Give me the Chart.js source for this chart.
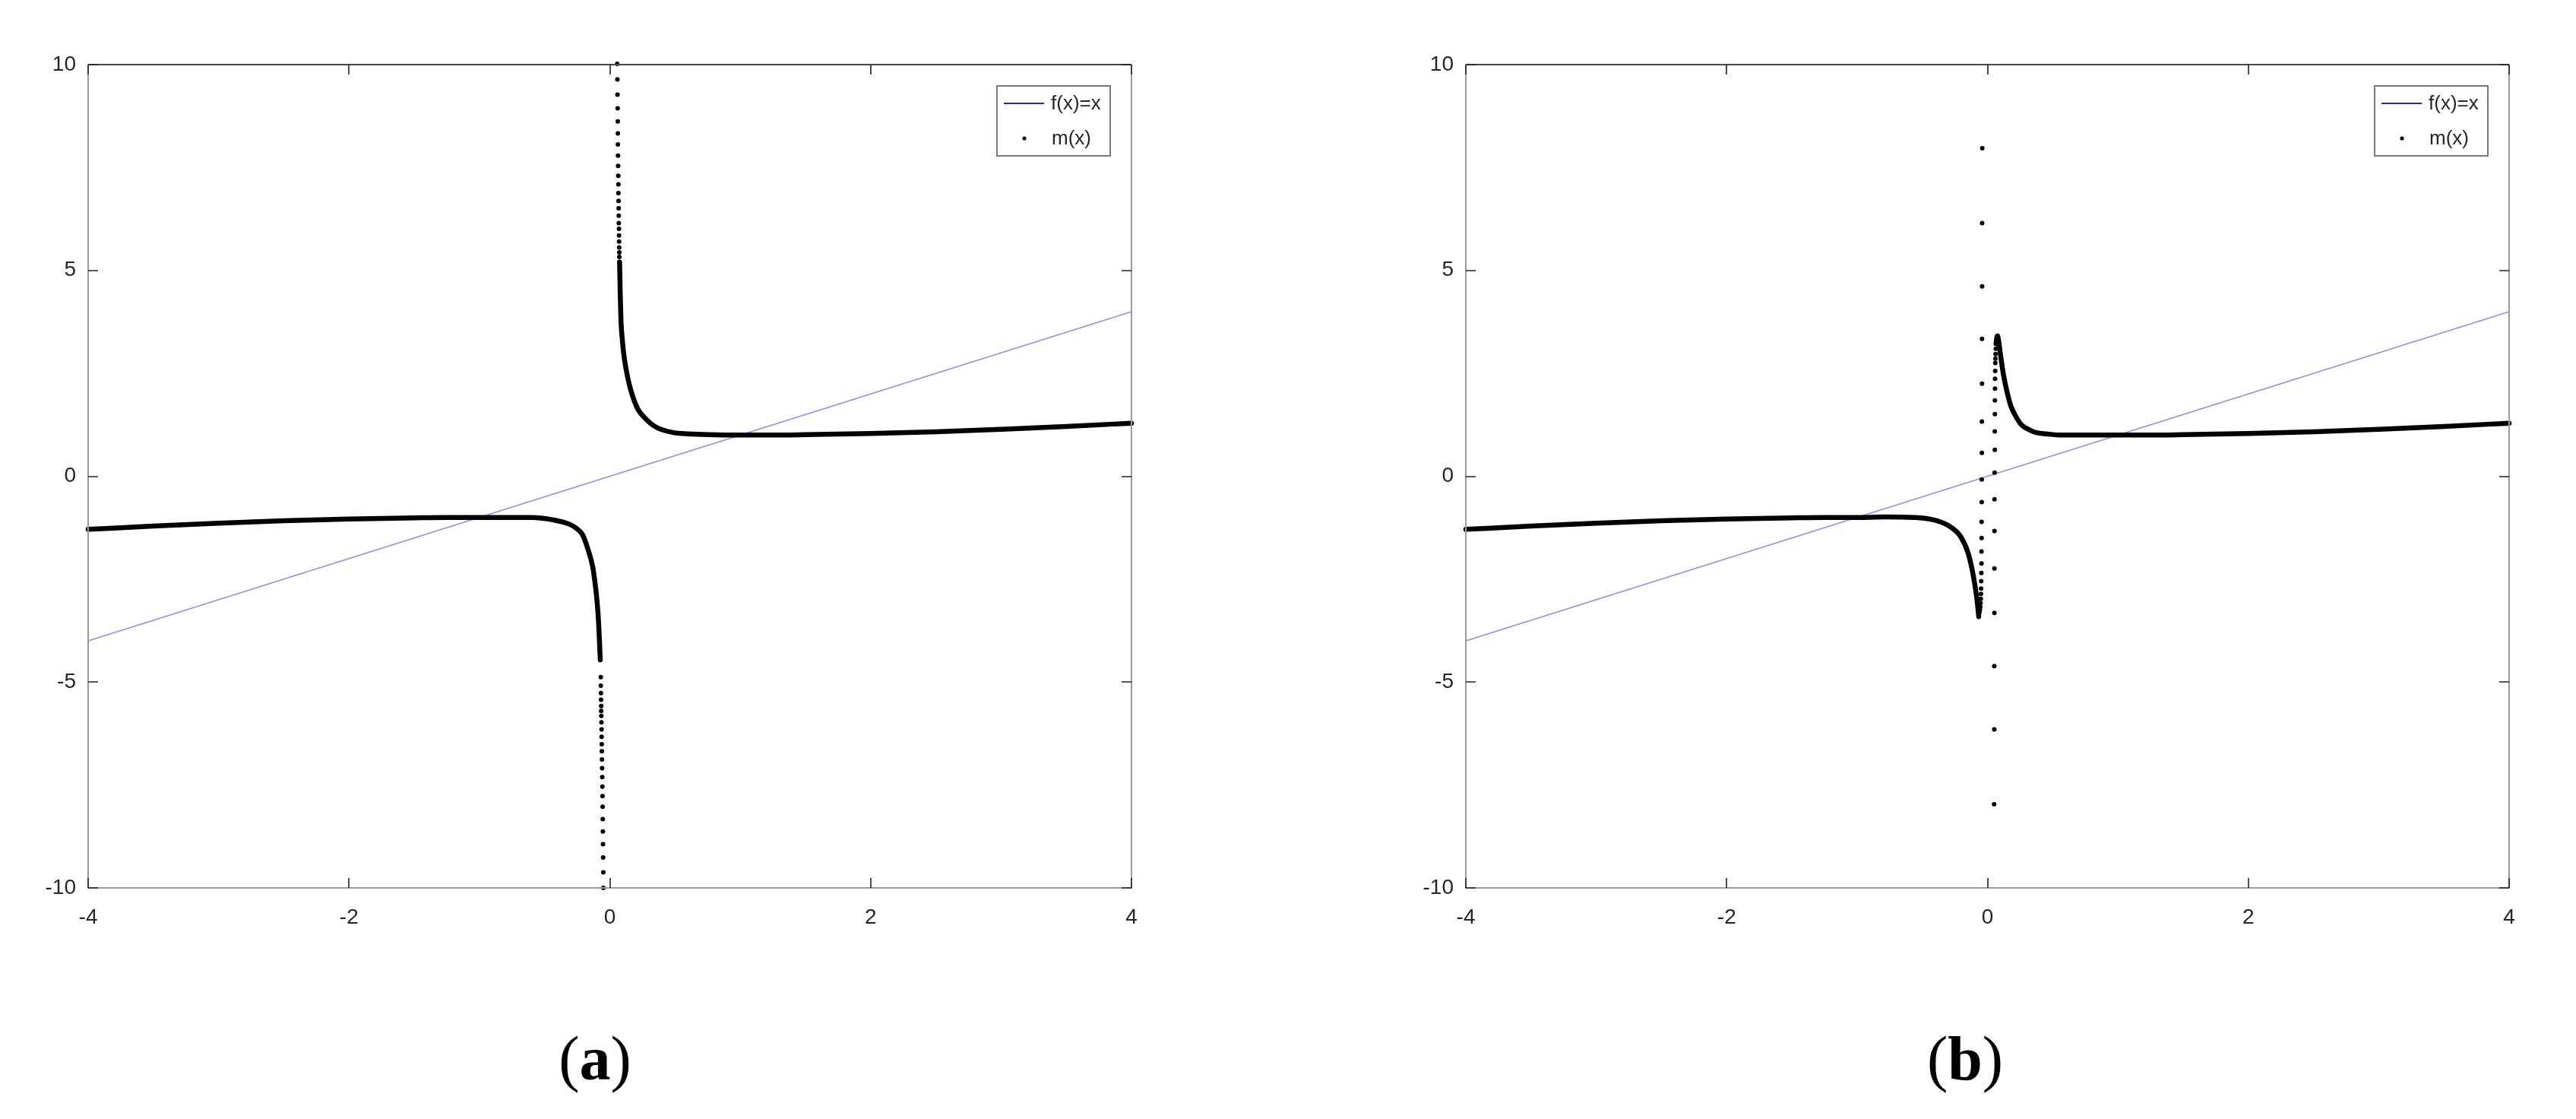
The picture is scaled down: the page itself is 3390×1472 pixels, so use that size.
<!DOCTYPE html>
<html><head><meta charset="utf-8">
<script src="https://cdn.jsdelivr.net/npm/chart.js@4.4.1/dist/chart.umd.min.js"></script>
<style>
html,body{margin:0;padding:0;background:#fff;}
body{width:3390px;height:1472px;position:relative;overflow:hidden;}
.panel{position:absolute;top:0;width:1600px;height:1300px;}
.cap{position:absolute;font-family:"Liberation Serif","DejaVu Serif",serif;font-size:82px;color:#000;transform:translateX(-50%);line-height:1;white-space:nowrap;}
.cap b{font-weight:bold;}
</style></head><body>
<div class="panel" style="left:0"><canvas id="ca" width="1600" height="1300"></canvas></div>
<div class="panel" style="left:1813px"><canvas id="cb" width="1600" height="1300"></canvas></div>
<div class="cap" style="left:783px;top:1352px">(<b>a</b>)</div>
<div class="cap" style="left:2586px;top:1352px">(<b>b</b>)</div>
<script>
// ---- tick values ----
const xTickValues = [-4, -2, 0, 2, 4];
const yTickValues = [-10, -5, 0, 5, 10];

// ---- f(x)=x ----
const identityX = [-4, 4];
const identityY = [-4, 4];

// ---- panel (a): m(x), dense parts ----
const aLeftX = [-4.0, -3.5, -3.0, -2.5, -2.0, -1.5, -1.25, -1.0, -0.76, -0.597, -0.45, -0.306, -0.25, -0.209, -0.17, -0.131, -0.115, -0.102, -0.09, -0.083, -0.078, -0.073];
const aLeftY = [-1.29, -1.21, -1.14, -1.08, -1.04, -1.01, -1.0, -1.0, -1.0, -1.0, -1.05, -1.17, -1.28, -1.42, -1.75, -2.2, -2.55, -2.90, -3.35, -3.75, -4.1, -4.46];
const aRightX = [0.075, 0.077, 0.080, 0.086, 0.095, 0.106, 0.125, 0.150, 0.180, 0.219, 0.280, 0.335, 0.40, 0.49, 0.60, 0.76, 1.0, 1.25, 1.5, 2.0, 2.5, 3.0, 3.5, 4.0];
const aRightY = [5.2, 4.9, 4.4, 3.76, 3.35, 2.99, 2.6, 2.22, 1.9, 1.61, 1.38, 1.23, 1.13, 1.06, 1.03, 1.01, 1.0, 1.0, 1.01, 1.04, 1.08, 1.14, 1.21, 1.29];
// ---- panel (a): m(x), separate dots near the pole ----
const aDotsUpX = [0.057, 0.058, 0.059, 0.060, 0.061, 0.062, 0.062, 0.063, 0.064, 0.065, 0.066, 0.066, 0.067, 0.068, 0.069, 0.069, 0.070, 0.071, 0.071, 0.072, 0.073, 0.073, 0.074];
const aDotsUpY = [10.02, 9.64, 9.27, 8.94, 8.62, 8.33, 8.06, 7.79, 7.54, 7.30, 7.09, 6.88, 6.69, 6.51, 6.33, 6.15, 6.01, 5.85, 5.70, 5.56, 5.44, 5.33, 5.21];
const aDotsDownX = [-0.069, -0.069, -0.068, -0.067, -0.066, -0.066, -0.065, -0.064, -0.063, -0.063, -0.062, -0.061, -0.060, -0.059, -0.058, -0.057, -0.056, -0.055, -0.054, -0.053, -0.052, -0.051, -0.050, -0.049];
const aDotsDownY = [-4.88, -5.09, -5.27, -5.43, -5.58, -5.70, -5.82, -5.98, -6.15, -6.33, -6.51, -6.68, -6.88, -7.09, -7.31, -7.54, -7.77, -8.03, -8.33, -8.63, -8.94, -9.26, -9.62, -10.0];

// ---- panel (b): m(x), dense parts ----
const bLeftX = [-4.0, -3.5, -3.0, -2.5, -2.0, -1.5, -1.25, -1.0, -0.79, -0.557, -0.40, -0.284, -0.207, -0.149, -0.11, -0.081, -0.072, -0.067];
const bLeftY = [-1.29, -1.21, -1.14, -1.08, -1.04, -1.01, -1.0, -1.0, -0.99, -1.0, -1.07, -1.23, -1.46, -1.86, -2.39, -2.98, -3.25, -3.41];
const bRightX = [0.066, 0.070, 0.077, 0.085, 0.10, 0.123, 0.15, 0.18, 0.22, 0.26, 0.32, 0.376, 0.45, 0.57, 0.75, 0.96, 1.25, 1.5, 2.0, 2.5, 3.0, 3.5, 4.0];
const bRightY = [3.22, 3.35, 3.41, 3.3, 2.95, 2.46, 2.05, 1.70, 1.44, 1.25, 1.13, 1.06, 1.03, 1.0, 1.0, 1.0, 1.0, 1.01, 1.04, 1.08, 1.14, 1.21, 1.29];
// ---- panel (b): m(x), separate dots ----
const bDotsLX = [-0.062, -0.058, -0.055, -0.053, -0.051, -0.050, -0.049, -0.048, -0.047, -0.046, -0.046, -0.045, -0.045, -0.044, -0.044, -0.043, -0.043, -0.042, -0.042, -0.041, -0.041, -0.040];
const bDotsLY = [-3.31, -3.24, -3.17, -3.08, -2.98, -2.86, -2.73, -2.55, -2.35, -2.12, -1.83, -1.50, -1.11, -0.63, -0.08, 0.57, 1.33, 2.25, 3.34, 4.61, 6.15, 7.97];
const bDotsRX = [0.051, 0.052, 0.052, 0.053, 0.053, 0.054, 0.054, 0.055, 0.056, 0.056, 0.057, 0.057, 0.058, 0.058, 0.059, 0.060, 0.061, 0.062, 0.064, 0.066];
const bDotsRY = [-7.97, -6.15, -4.61, -3.32, -2.24, -1.33, -0.56, 0.09, 0.64, 1.09, 1.51, 1.84, 2.13, 2.37, 2.56, 2.75, 2.86, 2.97, 3.10, 3.22];

const zip = (xs, ys) => xs.map((x, i) => ({x: x, y: ys[i]}));
const FONT = '"Liberation Sans", Arial, sans-serif';
const TXT = '#262626';

function identityDS() {
  return {label: 'f(x)=x', data: zip(identityX, identityY), showLine: true, borderColor: '#8f8fea', borderWidth: 1.6, pointRadius: 0, order: 3, clip: false};
}
function curveDS(xs, ys) {
  return {data: zip(xs, ys), showLine: true, borderColor: '#000', borderWidth: 6.5, pointRadius: 0,
          borderCapStyle: 'round', borderJoinStyle: 'round', cubicInterpolationMode: 'monotone', order: 2, clip: 4};
}
function dotsDS(label, xs, ys) {
  return {label: label, data: zip(xs, ys), showLine: false, pointRadius: 3, pointBackgroundColor: '#000',
          pointBorderWidth: 0, pointStyle: 'circle', order: 1, clip: 6};
}

const framePlugin = {
  id: 'frame',
  afterDatasetsDraw(chart) {
    const ctx = chart.ctx, a = chart.chartArea, xs = chart.scales.x, ys = chart.scales.y;
    ctx.save();
    ctx.lineWidth = 2;
    ctx.strokeStyle = '#9a9a9a';
    ctx.beginPath();
    ctx.moveTo(a.left, a.top); ctx.lineTo(a.left, a.bottom); ctx.lineTo(a.right, a.bottom); ctx.lineTo(a.right, a.top);
    ctx.stroke();
    ctx.strokeStyle = '#4a4a4a';
    ctx.beginPath(); ctx.moveTo(a.left, a.top); ctx.lineTo(a.right, a.top); ctx.stroke();
    ctx.strokeStyle = '#222';
    ctx.lineWidth = 1.6;
    const L = 13;
    ctx.beginPath();
    xs.ticks.forEach(t => {
      const p = Math.round(xs.getPixelForValue(t.value));
      ctx.moveTo(p, a.bottom); ctx.lineTo(p, a.bottom - L);
      ctx.moveTo(p, a.top); ctx.lineTo(p, a.top + L);
    });
    ys.ticks.forEach(t => {
      const p = Math.round(ys.getPixelForValue(t.value));
      ctx.moveTo(a.left, p); ctx.lineTo(a.left + L, p);
      ctx.moveTo(a.right, p); ctx.lineTo(a.right - L, p);
    });
    ctx.stroke();
    ctx.restore();
  }
};

const legendPlugin = {
  id: 'boxLegend',
  afterDraw(chart) {
    const ctx = chart.ctx, a = chart.chartArea;
    const lineDS = chart.data.datasets.find(d => d.label === 'f(x)=x');
    const dotDS = chart.data.datasets.find(d => d.label === 'm(x)');
    const w = 149, h = 92;
    const bx = a.right - 28 - w, by = a.top + 28;
    ctx.save();
    ctx.fillStyle = '#fff';
    ctx.fillRect(bx, by, w, h);
    ctx.strokeStyle = '#7a7a7a';
    ctx.lineWidth = 2;
    ctx.strokeRect(bx, by, w, h);
    ctx.strokeStyle = '#2424c8';
    ctx.lineWidth = 2;
    ctx.beginPath(); ctx.moveTo(bx + 9, by + 23); ctx.lineTo(bx + 62, by + 23); ctx.stroke();
    ctx.fillStyle = '#000';
    ctx.beginPath(); ctx.arc(bx + 36, by + 69, 2.6, 0, Math.PI * 2); ctx.fill();
    ctx.fillStyle = TXT;
    ctx.font = '26px ' + FONT;
    ctx.textBaseline = 'middle';
    ctx.textAlign = 'left';
    ctx.fillText(lineDS.label, bx + 71, by + 24);
    ctx.fillText(dotDS.label, bx + 72, by + 70);
    ctx.restore();
  }
};

function makeChart(id, datasets) {
  return new Chart(document.getElementById(id), {
    type: 'scatter',
    data: {datasets: datasets},
    options: {
      responsive: false,
      animation: false,
      events: [],
      layout: {padding: {left: 16, top: 85, right: 111, bottom: 52}},
      plugins: {legend: {display: false}, tooltip: {enabled: false}},
      scales: {
        x: {
          type: 'linear', min: -4, max: 4,
          afterBuildTicks: s => { s.ticks = xTickValues.map(v => ({value: v})); },
          afterFit: s => { s.height = 80; },
          grid: {display: false, drawTicks: false},
          border: {display: false},
          ticks: {padding: 22, color: TXT, font: {family: FONT, size: 28}, maxRotation: 0, callback: v => String(v)}
        },
        y: {
          type: 'linear', min: -10, max: 10,
          afterBuildTicks: s => { s.ticks = yTickValues.map(v => ({value: v})); },
          afterFit: s => { s.width = 100; },
          grid: {display: false, drawTicks: false},
          border: {display: false},
          ticks: {padding: 16, color: TXT, font: {family: FONT, size: 28}, callback: v => String(v)}
        }
      }
    },
    plugins: [framePlugin, legendPlugin]
  });
}

makeChart('ca', [
  identityDS(),
  curveDS(aLeftX, aLeftY),
  curveDS(aRightX, aRightY),
  dotsDS('m(x)', aDotsUpX.concat(aDotsDownX), aDotsUpY.concat(aDotsDownY))
]);
makeChart('cb', [
  identityDS(),
  curveDS(bLeftX, bLeftY),
  curveDS(bRightX, bRightY),
  dotsDS('m(x)', bDotsLX.concat(bDotsRX), bDotsLY.concat(bDotsRY))
]);
</script>
</body></html>
